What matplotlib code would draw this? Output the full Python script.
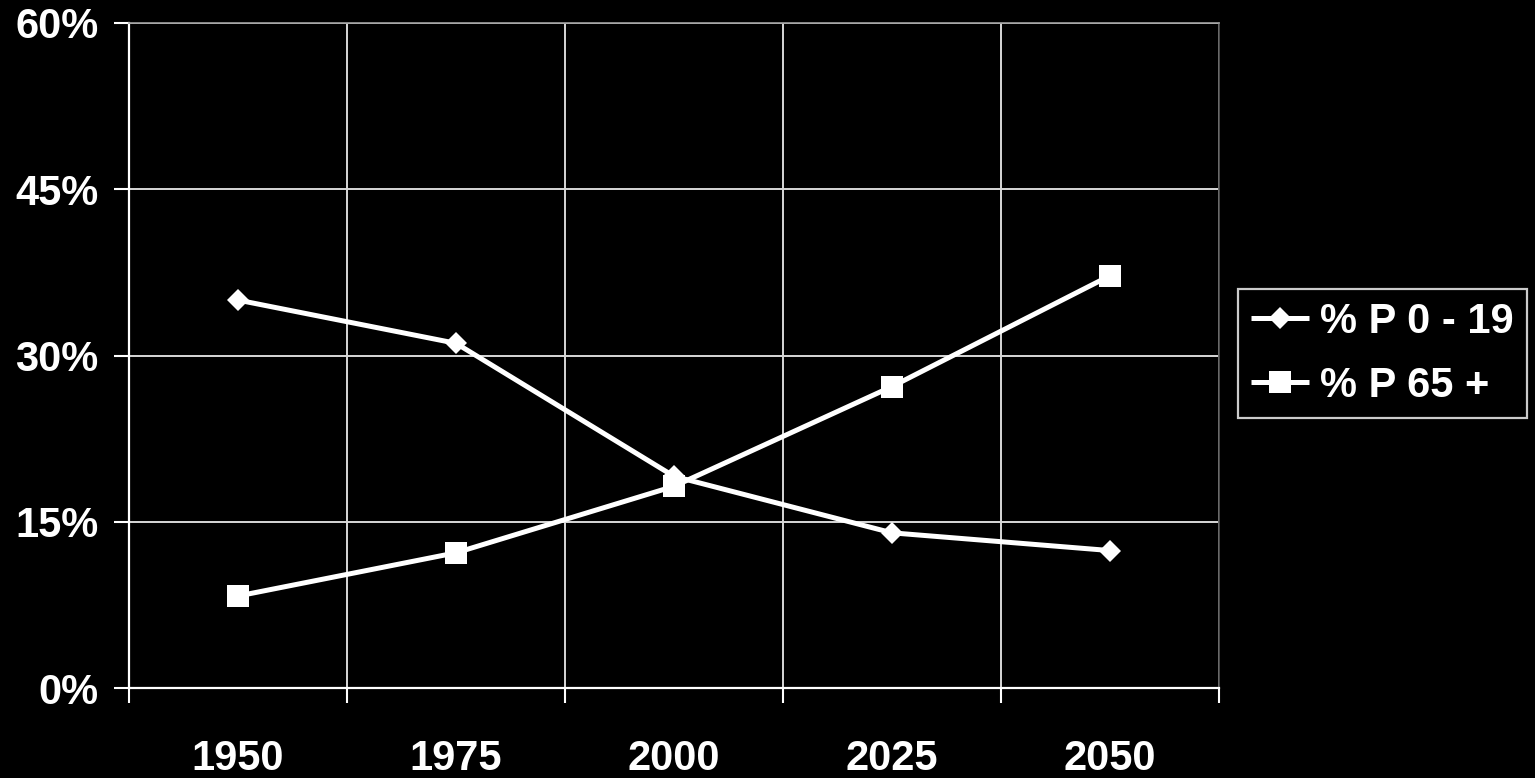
import matplotlib
matplotlib.use("Agg")
import matplotlib.pyplot as plt
from matplotlib.ticker import FixedLocator, FuncFormatter

# Population share by age group
years = ["1950", "1975", "2000", "2025", "2050"]
share_0_19 = [35.0, 31.1, 19.1, 14.0, 12.4]
share_65_plus = [8.3, 12.2, 18.2, 27.2, 37.2]
series_labels = ["% P 0 - 19", "% P 65 +"]
y_ticks = [0, 15, 30, 45, 60]

plt.rcParams["font.family"] = ["Liberation Sans", "DejaVu Sans"]
plt.rcParams["font.weight"] = "bold"

fig = plt.figure(figsize=(15.35, 7.78), dpi=100, facecolor="black")
ax = fig.add_axes([129 / 1535, 1 - 688 / 778, 1090 / 1535, 665 / 778])
ax.set_facecolor("black")

x = list(range(len(years)))
ax.plot(x, share_0_19, color="white", lw=3.6, marker="D", markersize=11.2,
        markeredgewidth=0, solid_capstyle="butt", label=series_labels[0], zorder=3)
ax.plot(x, share_65_plus, color="white", lw=3.6, marker="s", markersize=15.8,
        markeredgewidth=0, solid_capstyle="butt", label=series_labels[1], zorder=3)

ax.set_xlim(-0.5, len(years) - 0.5)
ax.set_ylim(0, 60)

# category labels centred, boundary ticks and grid between categories
ax.set_xticks(x)
ax.set_xticklabels(years)
ax.xaxis.set_minor_locator(FixedLocator([i - 0.5 for i in range(len(years) + 1)]))
ax.tick_params(axis="x", which="major", length=0, pad=37, labelsize=30,
               labelcolor="white")
ax.tick_params(axis="x", which="minor", length=11, width=1.5, color="white",
               direction="out")

ax.set_yticks(y_ticks)
ax.yaxis.set_major_formatter(FuncFormatter(lambda v, p: f"{int(v)}%"))
ax.tick_params(axis="y", which="major", length=11, width=1.5, color="white",
               direction="out", pad=11, labelsize=30, labelcolor="white")

ax.grid(True, axis="y", which="major", color="#d8d8d8", lw=1.4, zorder=1)
ax.grid(True, axis="x", which="minor", color="#d8d8d8", lw=1.4, zorder=1)
ax.set_axisbelow(True)

for side in ("left", "bottom"):
    ax.spines[side].set_color("white")
    ax.spines[side].set_linewidth(1.6)
ax.spines["top"].set_color("#a0a0a0")
ax.spines["top"].set_linewidth(1.2)
ax.spines["right"].set_color("#555555")
ax.spines["right"].set_linewidth(1.2)

for lbl in ax.get_xticklabels() + ax.get_yticklabels():
    lbl.set_fontweight("bold")

leg = fig.legend(loc="upper left", bbox_to_anchor=(1238 / 1535, 1 - 289 / 778),
                 frameon=True, fancybox=False, facecolor="black",
                 edgecolor="white", fontsize=30, handlelength=1.4,
                 handletextpad=0.28, labelspacing=0.58, borderpad=0.3,
                 borderaxespad=0)
leg.get_frame().set_linewidth(1.6)
for t in leg.get_texts():
    t.set_color("white")
    t.set_fontweight("bold")

fig.savefig("out.png", dpi=100, facecolor="black")
